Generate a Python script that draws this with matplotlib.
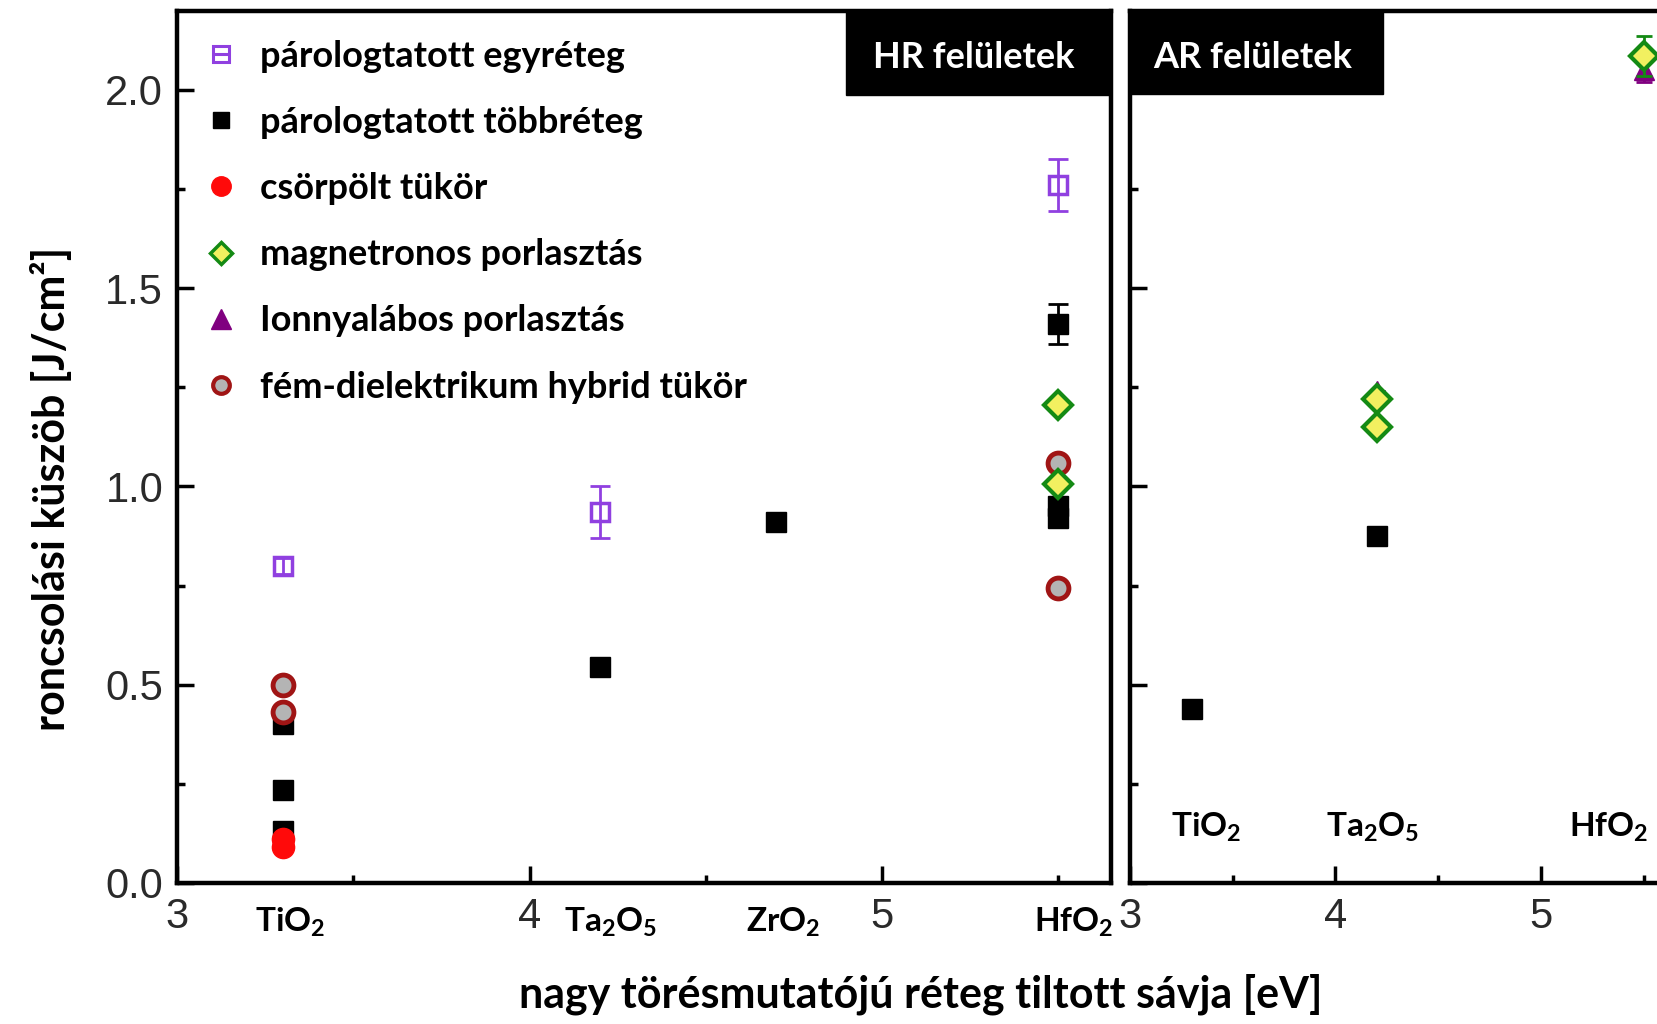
import matplotlib
matplotlib.use("Agg")
import matplotlib.pyplot as plt
from matplotlib.lines import Line2D
from matplotlib.patches import Rectangle
from matplotlib.ticker import MultipleLocator
import matplotlib.transforms as mtrans

plt.rcParams['font.family'] = ['Lato', 'DejaVu Sans']
plt.rcParams['mathtext.fontset'] = 'custom'
plt.rcParams['mathtext.rm'] = 'Lato:bold'
plt.rcParams['mathtext.it'] = 'Lato:bold'
plt.rcParams['mathtext.bf'] = 'Lato:bold'

# ---- data: band gap of high-index layer [eV] vs. damage threshold [J/cm^2] ----
# HR (high reflector) coatings
hr_single_x = [3.3, 4.2, 5.5]
hr_single_y = [0.80, 0.935, 1.76]
hr_single_err = [0.02, 0.065, 0.065]

hr_multi_x = [3.3, 3.3, 3.3, 4.2, 4.7, 5.5, 5.5, 5.5]
hr_multi_y = [0.40, 0.235, 0.13, 0.545, 0.91, 1.41, 0.95, 0.92]
hr_multi_err = [0, 0, 0, 0, 0, 0.05, 0, 0]

hr_chirp_x = [3.3, 3.3]
hr_chirp_y = [0.11, 0.09]

hr_magnetron_x = [5.5, 5.5]
hr_magnetron_y = [1.205, 1.005]

hr_hybrid_x = [3.3, 3.3, 5.5, 5.5]
hr_hybrid_y = [0.50, 0.43, 1.06, 0.745]

# AR (anti-reflection) coatings
ar_multi_x = [3.3, 4.2]
ar_multi_y = [0.44, 0.875]

ar_ionbeam_x = [4.2, 5.5]
ar_ionbeam_y = [1.24, 2.05]
ar_ionbeam_err = [0, 0.03]

ar_magnetron_x = [4.2, 4.2, 5.5]
ar_magnetron_y = [1.22, 1.15, 2.085]
ar_magnetron_err = [0, 0, 0.05]

# material names along the band-gap axis
hr_mat_labels = [r'TiO$_2$', r'Ta$_2$O$_5$', r'ZrO$_2$', r'HfO$_2$']
hr_mat_pos = [3.32, 4.23, 4.72, 5.545]
ar_mat_labels = [r'TiO$_2$', r'Ta$_2$O$_5$', r'HfO$_2$']
ar_mat_pos = [3.37, 4.18, 5.33]

series_labels = ['párologtatott egyréteg', 'párologtatott többréteg', 'csörpölt tükör',
                 'magnetronos porlasztás', 'Ionnyalábos porlasztás',
                 'fém-dielektrikum hybrid tükör']

PURPLE = '#9040e0'
IONC = '#800080'
RED = '#ff0a0a'
GREEN = '#148a14'
YELLOW = '#f2f060'
HYB_EDGE = '#a01515'
HYB_FACE = '#b4b4b4'
NUMCOL = '#2a2a2a'

MS = 15

fig = plt.figure(figsize=(16.58, 10.24), dpi=100)
ax1 = fig.add_axes([0.1068, 0.1377, 0.5633, 0.8519])
ax2 = fig.add_axes([0.6815, 0.1377, 0.3285, 0.8519])

for ax in (ax1, ax2):
    ax.set_xlim(3, 5.65)
    ax.set_ylim(0, 2.2)
    ax.xaxis.set_major_locator(MultipleLocator(1))
    ax.xaxis.set_minor_locator(MultipleLocator(0.5))
    ax.yaxis.set_major_locator(MultipleLocator(0.5))
    ax.yaxis.set_minor_locator(MultipleLocator(0.25))
    ax.tick_params(which='both', direction='in', width=2.5, colors='black',
                   top=False, right=False)
    ax.tick_params(which='major', length=12, labelsize=30, labelcolor=NUMCOL, pad=10)
    ax.tick_params(which='minor', length=6)
    for sp in ax.spines.values():
        sp.set_linewidth(3.2)
    for lab in ax.get_xticklabels() + ax.get_yticklabels():
        lab.set_family(['Liberation Sans', 'DejaVu Sans'])

ax2.tick_params(axis='y', labelleft=False)
ax2.spines['right'].set_visible(False)

# ---- HR panel ----
ax1.plot(hr_multi_x, hr_multi_y, 's', color='black', ms=MS, zorder=3)
ax1.errorbar(hr_multi_x, hr_multi_y, yerr=hr_multi_err, fmt='none', ecolor='black',
             elinewidth=2, capsize=7, capthick=2, zorder=3)
ax1.plot(hr_hybrid_x, hr_hybrid_y, 'o', mfc=HYB_FACE, mec=HYB_EDGE, mew=3.5,
         ms=MS, zorder=4)
ax1.plot(hr_chirp_x, hr_chirp_y, 'o', color=RED, ms=MS + 1, zorder=5)
ax1.plot(hr_magnetron_x, hr_magnetron_y, 'D', mfc=YELLOW, mec=GREEN, mew=3,
         ms=MS - 1, zorder=6)
ax1.errorbar(hr_single_x, hr_single_y, yerr=hr_single_err, fmt='none', ecolor=PURPLE,
             elinewidth=2, capsize=7, capthick=2, zorder=7)
ax1.plot(hr_single_x, hr_single_y, 's', mfc='none', mec=PURPLE, mew=2.5, ms=MS - 2,
         zorder=7)

# ---- AR panel ----
ax2.plot(ar_multi_x, ar_multi_y, 's', color='black', ms=MS, zorder=3)
ax2.errorbar(ar_ionbeam_x, ar_ionbeam_y, yerr=ar_ionbeam_err, fmt='none', ecolor=IONC,
             elinewidth=2, capsize=6, capthick=2, zorder=5)
ax2.plot(ar_ionbeam_x, ar_ionbeam_y, '^', color=IONC, ms=MS, zorder=5)
ax2.errorbar(ar_magnetron_x, ar_magnetron_y, yerr=ar_magnetron_err, fmt='none',
             ecolor=GREEN, elinewidth=2, capsize=6, capthick=2, zorder=6)
ax2.plot(ar_magnetron_x, ar_magnetron_y, 'D', mfc=YELLOW, mec=GREEN, mew=3,
         ms=MS - 1, zorder=6)

# material names
t1 = mtrans.blended_transform_factory(ax1.transData, ax1.transAxes)
for name, xp in zip(hr_mat_labels, hr_mat_pos):
    ax1.text(xp, -0.045, name, transform=t1, ha='center', va='center',
             fontsize=24, fontweight='bold', clip_on=False)
for name, xp in zip(ar_mat_labels, ar_mat_pos):
    ax2.text(xp, 0.14, name, ha='center', va='center', fontsize=24,
             fontweight='bold')

# panel headers
ax1.add_patch(Rectangle((0.7166, 0.903), 0.2834, 0.097, transform=ax1.transAxes,
                        facecolor='black', edgecolor='black', zorder=8, clip_on=False))
ax1.text(0.853, 0.946, 'HR felületek', transform=ax1.transAxes, ha='center',
         va='center', color='white', fontsize=26, fontweight='bold', zorder=9)
ax2.add_patch(Rectangle((0.0, 0.905), 0.464, 0.095, transform=ax2.transAxes,
                        facecolor='black', edgecolor='black', zorder=8, clip_on=False))
ax2.text(0.225, 0.946, 'AR felületek', transform=ax2.transAxes, ha='center',
         va='center', color='white', fontsize=26, fontweight='bold', zorder=9)

# legend
h_single = (Line2D([], [], ls='none', marker='s', mfc='none', mec=PURPLE, mew=2.2, ms=11),
            Line2D([], [], ls='none', marker='_', mec=PURPLE, mew=2.2, ms=11))
handles = [
    h_single,
    Line2D([], [], ls='none', marker='s', color='black', ms=12),
    Line2D([], [], ls='none', marker='o', color=RED, ms=14),
    Line2D([], [], ls='none', marker='D', mfc=YELLOW, mec=GREEN, mew=2.5, ms=11),
    Line2D([], [], ls='none', marker='^', color=IONC, ms=14),
    Line2D([], [], ls='none', marker='o', mfc=HYB_FACE, mec=HYB_EDGE, mew=3, ms=12),
]
ax1.legend(handles, series_labels, loc='upper left', bbox_to_anchor=(0.0, 1.0),
           frameon=False, prop={'family': 'Lato', 'weight': 'bold', 'size': 26},
           handlelength=0.85, handletextpad=0.65, labelspacing=0.92,
           borderaxespad=0.3, borderpad=0.5)

fig.text(0.031, 0.523, 'roncsolási küszöb [J/cm²]', rotation=90, ha='center',
         va='center', fontsize=31, fontweight='bold')
fig.text(0.555, 0.029, 'nagy törésmutatójú réteg tiltott sávja [eV]', ha='center',
         va='center', fontsize=31, fontweight='bold')

fig.savefig('out.png', dpi=100)
